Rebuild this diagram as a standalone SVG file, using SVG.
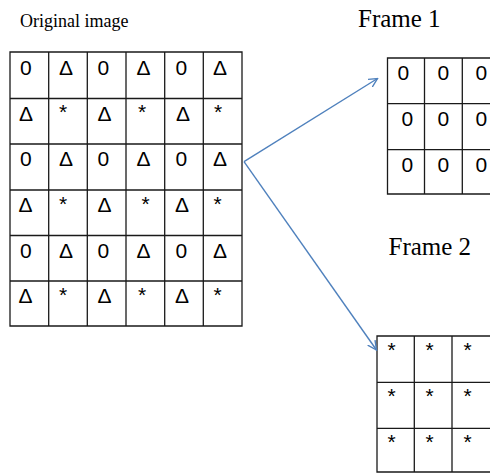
<svg xmlns="http://www.w3.org/2000/svg" width="490" height="473" viewBox="0 0 490 473">
<defs>
<style>
.g{fill:none;stroke:#1a1a1a;stroke-width:1.3}
.c{font-family:"Liberation Sans",Arial,sans-serif;font-size:21px;fill:#000}
.t{font-family:"Liberation Serif","Times New Roman",serif;fill:#000}
.a{fill:none;stroke:#4f81bd;stroke-width:1.4}
</style>
<marker id="ah" viewBox="0 0 10 10" refX="9" refY="5" markerWidth="10" markerHeight="10" markerUnits="userSpaceOnUse" orient="auto">
<path d="M0,0.5 L9,5 L0,9.5" fill="none" stroke="#4f81bd" stroke-width="1.4"/>
</marker>
</defs>
<rect width="490" height="473" fill="#fff"/>
<text class="t" x="20" y="26.7" font-size="18">Original image</text>
<text class="t" x="358" y="27" font-size="25">Frame 1</text>
<text class="t" x="388.5" y="255" font-size="25">Frame 2</text>

<g id="original">
<path class="g" d="M10,52H242V326H10Z M48.7,52V326 M87.3,52V326 M126,52V326 M164.7,52V326 M203.3,52V326 M10,98.5H242 M10,144H242 M10,190H242 M10,235.5H242 M10,281H242"/>
<g class="c">
<text x="20" y="74.5">0</text><text x="59" y="74.5">Δ</text><text x="97.5" y="74.5">0</text><text x="136.5" y="74.5">Δ</text><text x="175.5" y="74.5">0</text><text x="213" y="74.5">Δ</text>
<text x="19" y="120.5">Δ</text><text x="59" y="119">*</text><text x="97.5" y="120.5">Δ</text><text x="138" y="119">*</text><text x="176" y="120.5">Δ</text><text x="214" y="119">*</text>
<text x="20" y="166">0</text><text x="59" y="166">Δ</text><text x="97.5" y="166">0</text><text x="136.5" y="166">Δ</text><text x="175.5" y="166">0</text><text x="213" y="166">Δ</text>
<text x="18.5" y="212">Δ</text><text x="59" y="210.5">*</text><text x="97.5" y="212">Δ</text><text x="141.5" y="210.5">*</text><text x="175" y="212">Δ</text><text x="213.5" y="210.5">*</text>
<text x="20" y="257.5">0</text><text x="59" y="257.5">Δ</text><text x="97.5" y="257.5">0</text><text x="136.5" y="257.5">Δ</text><text x="175.5" y="257.5">0</text><text x="213" y="257.5">Δ</text>
<text x="18.5" y="303">Δ</text><text x="59" y="301.5">*</text><text x="97.5" y="303">Δ</text><text x="138" y="301.5">*</text><text x="175" y="303">Δ</text><text x="213.5" y="301.5">*</text>
</g>
</g>

<g id="frame1">
<path class="g" d="M500,58H387.5V194H500 M424.5,58V194 M462.3,58V194 M387.5,103.7H500 M387.5,149.7H500"/>
<g class="c">
<text x="397.5" y="79.5">0</text><text x="437.5" y="79.5">0</text><text x="475.5" y="79.5">0</text>
<text x="401.5" y="125.5">0</text><text x="437.5" y="125.5">0</text><text x="475.5" y="125.5">0</text>
<text x="401.5" y="171.5">0</text><text x="437.5" y="171.5">0</text><text x="475.5" y="171.5">0</text>
</g>
</g>

<g id="frame2">
<path class="g" d="M500,336H377V472H500 M414.3,336V472 M452,336V472 M377,382.3H500 M377,428.3H500"/>
<g class="c">
<text x="387.5" y="356.5">*</text><text x="425.5" y="356.5">*</text><text x="463.5" y="356.5">*</text>
<text x="387.5" y="402.5">*</text><text x="425.5" y="402.5">*</text><text x="463.5" y="402.5">*</text>
<text x="387.5" y="448.5">*</text><text x="425.5" y="448.5">*</text><text x="463.5" y="448.5">*</text>
</g>
</g>

<g id="connectors">
<path class="a" d="M244,161.7L377.5,78.5" marker-end="url(#ah)"/>
<path class="a" d="M244,161.7L376.5,350" marker-end="url(#ah)"/>
</g>
</svg>
